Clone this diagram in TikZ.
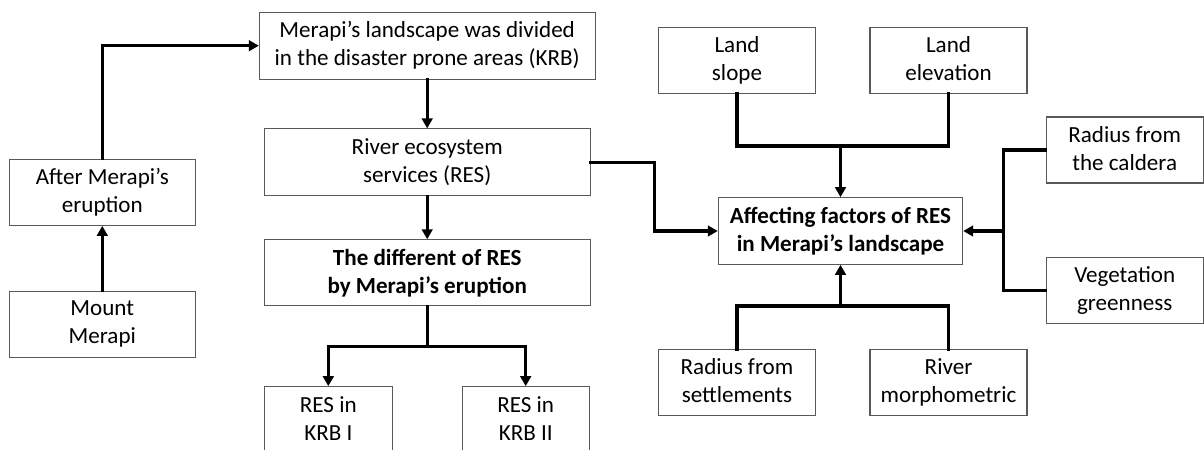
\documentclass[tikz,border=0pt]{standalone}
\usepackage{fontspec}
\setmainfont{Carlito}
\usetikzlibrary{arrows.meta}
\newcommand\toprule{\rule[0pt]{0pt}{14pt}}
\newcommand\botrule{\rule[-2.4pt]{0pt}{2.4pt}}
\begin{document}
\begin{tikzpicture}[x=0.75pt,y=-0.75pt,
  box/.style={draw=black!65,line width=0.8pt,inner sep=0pt,align=center,
    font=\fontsize{17.3}{21}\selectfont,minimum height={66*0.75pt},
    execute at begin node=\toprule, execute at end node=\botrule},
  bbox/.style={box,font=\fontsize{17.3}{21}\selectfont\bfseries},
  conn/.style={line width=2.4pt,line cap=rect},
  arr/.style={conn,-{Triangle[length=7.5pt,width=8pt]}}]
\useasboundingbox (0,0) rectangle (1204,450);
\clip (0,0) rectangle (1204,450);
\fill[white] (0,0) rectangle (1204,450);
% nodes
\node[box,minimum width={186*0.75pt}] (after) at (102.3,192.3) {After Merapi’s\\eruption};
\node[box,minimum width={186*0.75pt}] (mount) at (102.3,324.3) {Mount\\Merapi};
\node[box,minimum width={335.7*0.75pt},minimum height={66.7*0.75pt}] (land) at (427.2,45.7) {Merapi’s landscape was divided\\in the disaster prone areas (KRB)};
\node[box,minimum width={325.7*0.75pt},minimum height={66.7*0.75pt}] (res) at (427.2,162.3) {River ecosystem\\services (RES)};
\node[bbox,minimum width={325.7*0.75pt}] (diff) at (427.2,272.8) {The different of RES\\by Merapi’s eruption};
\node[box,minimum width={128*0.75pt}] (krbi) at (328.3,419.7) {RES in\\KRB I};
\node[box,minimum width={127.3*0.75pt}] (krbii) at (525.7,419.7) {RES in\\KRB II};
\node[box,minimum width={156.7*0.75pt}] (slope) at (737,60.5) {Land\\slope};
\node[box,minimum width={157*0.75pt}] (elev) at (948.5,60.5) {Land\\elevation};
\node[bbox,minimum width={244.4*0.75pt},minimum height={66.6*0.75pt}] (affect) at (840.5,231) {Affecting factors of RES\\in Merapi’s landscape};
\node[box,minimum width={156.7*0.75pt}] (settle) at (737,382.5) {Radius from\\settlements};
\node[box,minimum width={157*0.75pt}] (morph) at (948.5,382.5) {River\\morphometric};
\node[box,minimum width={157.3*0.75pt}] (caldera) at (1124.7,150) {Radius from\\the caldera};
\node[box,minimum width={157.3*0.75pt}] (veg) at (1124.7,290.3) {Vegetation\\greenness};
% junctions
\coordinate (jd) at (427.2,346.7);
\coordinate (jt) at (840.5,146);
\coordinate (jb) at (840.5,306);
\coordinate (jr) at (1003.3,231);
\coordinate (jres) at (654.3,162.3);
% connectors
\draw[arr] (mount) -- (after);
\draw[arr] (after.north) |- (land.west);
\draw[arr] (land) -- (res);
\draw[arr] (res) -- (diff);
\draw[conn] (diff.south) -- (jd);
\draw[arr] (jd) -| (krbi.north);
\draw[arr] (jd) -| (krbii.north);
\draw[arr] (res.east) -- (jres) |- (affect.west);
\draw[conn] (slope.south) |- (jt) -| (elev.south);
\draw[arr] (jt) -- (affect.north);
\draw[conn] (settle.north) |- (jb) -| (morph.north);
\draw[arr] (jb) -- (affect.south);
\draw[conn] (caldera.west) -| (jr) |- (veg.west);
\draw[arr] (jr) -- (affect.east);
\end{tikzpicture}
\end{document}
